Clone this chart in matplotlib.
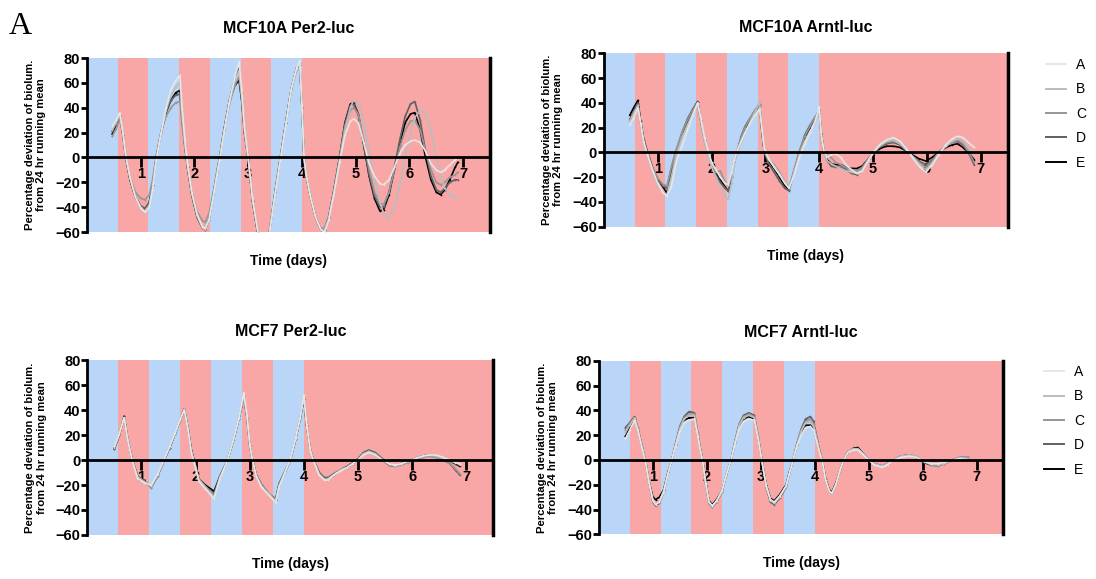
import matplotlib
matplotlib.use('Agg')
import matplotlib.pyplot as plt
from matplotlib.lines import Line2D

plt.rcParams['font.family'] = ['Liberation Sans', 'DejaVu Sans']

# ---- data (days, % deviation) ----
series_names = ['A', 'B', 'C', 'D', 'E']
series_colors = ['#e6e6e6', '#bcbcbc', '#969696', '#606060', '#000000']

# MCF10A Per2-luc
t1 = [0.47, 0.54, 0.61, 0.67, 0.72, 0.80, 0.90, 1.00, 1.08, 1.16, 1.22, 1.29, 1.38, 1.47, 1.56,
      1.65, 1.73, 1.77, 1.82, 1.87, 1.95, 2.05, 2.15, 2.20, 2.27, 2.35, 2.42, 2.47, 2.55, 2.65,
      2.75, 2.83, 2.88, 2.93, 3.00, 3.08, 3.18, 3.28, 3.38, 3.50, 3.60, 3.70, 3.80, 3.90, 3.96,
      4.00, 4.04, 4.08, 4.15, 4.25, 4.35, 4.42, 4.50, 4.60, 4.70, 4.80, 4.90, 4.96, 5.05, 5.15,
      5.25, 5.35, 5.45, 5.52, 5.62, 5.72, 5.82, 5.92, 6.02, 6.10, 6.20, 6.30, 6.40, 6.50, 6.58,
      6.66, 6.75, 6.85, 6.90]
a1 = [25, 30, 36, 20, 2, -16, -32, -41, -44, -40, -26, -2, 20, 40, 54, 62, 66, 40, 15, -5,
      -28, -46, -56, -57, -50, -32, -14, -2, 20, 45, 65, 77, 55, 25, 0, -33, -60, -74, -66, -30,
      -2, 26, 55, 72, 78, 42, 0, -14, -30, -48, -58, -60, -50, -28, -4, 18, 29, 31, 28, 12,
      -5, -15, -21, -22, -18, -8, 3, 10, 13, 14, 12, 5, -5, -10, -12, -10, -6, -2, 0]
b1 = [22, 28, 34, 19, 1, -17, -31, -40, -43, -38, -24, -1, 20, 38, 50, 57, 60, 36, 12, -6,
      -29, -47, -57, -58, -51, -31, -13, -1, 21, 44, 62, 70, 50, 22, -1, -34, -61, -74, -65, -29,
      -1, 27, 54, 71, 77, 41, -1, -14, -29, -47, -58, -59, -50, -28, -4, 22, 40, 46, 44, 28,
      5, -18, -36, -45, -49, -40, -22, 0, 20, 32, 38, 36, 22, 0, -15, -25, -30, -32, -32]
c1 = [17, 23, 31, 17, 0, -16, -28, -33, -34, -30, -18, 2, 20, 33, 40, 44, 45, 26, 8, -8,
      -28, -44, -51, -52, -45, -28, -10, 1, 22, 43, 58, 65, 46, 20, -2, -34, -60, -72, -63, -27,
      1, 28, 54, 70, 74, 40, -1, -15, -30, -47, -57, -57, -47, -25, 0, 25, 38, 40, 35, 14,
      -10, -28, -37, -38, -28, -10, 8, 22, 29, 30, 22, 5, -10, -20, -22, -20, -16, -14, -12]
d1 = [21, 27, 34, 19, 1, -17, -31, -39, -41, -36, -22, 0, 21, 37, 46, 50, 51, 30, 10, -8,
      -30, -48, -57, -58, -50, -30, -12, 0, 23, 46, 64, 72, 52, 22, -1, -35, -62, -75, -65, -28,
      0, 28, 55, 72, 76, 41, -1, -15, -30, -48, -58, -58, -48, -25, 0, 27, 42, 43, 34, 10,
      -14, -31, -40, -40, -28, -8, 14, 33, 43, 45, 30, 5, -15, -26, -28, -25, -20, -18, -18]
e1 = [19, 25, 33, 18, 0, -18, -32, -40, -42, -36, -22, 0, 20, 36, 46, 52, 54, 30, 10, -8,
      -30, -48, -57, -58, -50, -30, -12, 0, 22, 45, 58, 62, 45, 20, -2, -35, -62, -75, -65, -28,
      0, 28, 55, 72, 74, 40, -2, -15, -30, -48, -58, -58, -48, -25, 0, 28, 43, 44, 35, 10,
      -15, -33, -43, -42, -30, -10, 10, 28, 35, 36, 22, 0, -18, -28, -30, -26, -18, -8, -4]

# MCF10A Arntl-luc
t2 = [0.48, 0.55, 0.63, 0.68, 0.74, 0.81, 0.90, 1.00, 1.10, 1.17, 1.25, 1.34, 1.45, 1.55, 1.65,
      1.74, 1.80, 1.87, 1.93, 2.00, 2.08, 2.16, 2.25, 2.31, 2.37, 2.42, 2.47, 2.55, 2.62, 2.72,
      2.82, 2.89, 2.94, 2.98, 3.06, 3.16, 3.26, 3.36, 3.44, 3.52, 3.63, 3.73, 3.83, 3.93, 4.00,
      4.04, 4.09, 4.15, 4.22, 4.30, 4.40, 4.50, 4.60, 4.70, 4.80, 4.92, 5.02, 5.12, 5.25, 5.38,
      5.50, 5.62, 5.73, 5.85, 5.98, 6.10, 6.22, 6.35, 6.47, 6.57, 6.67, 6.77, 6.88]
a2 = [22, 28, 36, 24, 8, -2, -14, -25, -33, -35, -28, -8, 5, 18, 30, 40, 28, 12, 2, -8,
      -14, -20, -25, -26, -16, -6, 1, 9, 16, 24, 31, 35, 18, 3, -5, -12, -18, -25, -29, -20,
      -4, 7, 16, 26, 37, 14, 1, -4, -2, -1, -4, -10, -14, -17, -15, -6, 1, 6, 10, 12,
      9, 3, -4, -11, -16, -10, -2, 6, 11, 13, 12, 8, 4]
b2 = [25, 31, 38, 23, 6, -3, -15, -27, -33, -34, -20, -2, 12, 22, 31, 39, 25, 8, -2, -12,
      -20, -28, -35, -38, -25, -10, -1, 8, 16, 25, 34, 41, 20, 2, -6, -11, -17, -24, -29, -18,
      -2, 9, 17, 25, 33, 12, -1, -7, -9, -11, -13, -15, -16, -17, -14, -6, 0, 5, 9, 10,
      7, 2, -3, -9, -14, -9, -1, 5, 9, 11, 10, 4, -2]
c2 = [26, 32, 38, 24, 9, -1, -12, -21, -26, -27, -12, 2, 16, 26, 34, 40, 24, 9, -1, -9,
      -16, -15, -24, -27, -18, -6, 1, 12, 20, 28, 35, 37, 14, 0, -6, -10, -16, -24, -28, -16,
      1, 13, 21, 29, 33, 14, 0, -3, -4, -8, -10, -12, -14, -15, -12, -5, 1, 5, 8, 9,
      7, 2, -3, -8, -12, -7, 0, 5, 8, 10, 7, 1, -8]
d2 = [27, 33, 40, 24, 9, 0, -13, -23, -27, -29, -13, 1, 16, 27, 35, 41, 25, 9, 0, -11,
      -18, -24, -29, -31, -19, -7, 0, 13, 21, 28, 35, 39, 16, 0, -9, -16, -23, -29, -31, -18,
      0, 14, 22, 29, 32, 13, 0, -7, -11, -12, -12, -14, -17, -18, -13, -5, 0, 4, 7, 8,
      6, 1, -3, -7, -10, -6, 0, 5, 8, 9, 6, 0, -10]
e2 = [30, 36, 42, 25, 10, 0, -12, -22, -28, -33, -15, 0, 15, 25, 34, 41, 26, 10, 0, -10,
      -16, -22, -28, -31, -20, -8, 0, 10, 18, 26, 34, 38, 15, 0, -8, -13, -20, -27, -30, -17,
      0, 12, 20, 28, 35, 15, 0, -6, -9, -10, -10, -12, -13, -13, -11, -5, 0, 3, 5, 5,
      4, 1, -2, -5, -7, -4, 0, 4, 6, 7, 4, 0, -6]

# MCF7 Per2-luc
t3 = [0.50, 0.59, 0.68, 0.74, 0.83, 0.93, 1.05, 1.18, 1.30, 1.42, 1.52, 1.62, 1.72, 1.79, 1.86,
      1.92, 1.97, 2.06, 2.18, 2.34, 2.45, 2.59, 2.70, 2.80, 2.89, 2.95, 3.00, 3.05, 3.12, 3.22,
      3.35, 3.48, 3.54, 3.65, 3.75, 3.85, 3.93, 4.00, 4.05, 4.12, 4.18, 4.28, 4.38, 4.45, 4.55,
      4.67, 4.80, 4.90, 5.00, 5.10, 5.20, 5.32, 5.45, 5.58, 5.68, 5.80, 5.92, 6.05, 6.18, 6.30,
      6.45, 6.58, 6.70, 6.80, 6.88]
a3 = [11, 21, 34, 17, -1, -15, -18, -20, -11, 1, 11, 22, 33, 40, 24, 6, -2, -17, -23, -31,
      -15, 0, 17, 34, 54, 36, 13, 0, -13, -22, -28, -34, -22, -10, 1, 18, 34, 52, 29, 7,
      -1, -12, -16, -16, -12, -9, -6, -3, 0, 4, 6, 4, 0, -3, -4, -3, -1, 1, 3, 4,
      4, 2, 0, -2, -3]
b3 = [10, 21, 34, 18, 0, -14, -18, -21, -12, 0, 11, 21, 32, 41, 25, 7, -1, -16, -22, -30,
      -14, 0, 16, 33, 52, 35, 12, 0, -13, -21, -27, -33, -21, -10, 0, 17, 33, 51, 29, 8,
      0, -11, -16, -15, -12, -8, -6, -3, 0, 5, 7, 5, 0, -3, -5, -3, -1, 1, 3, 4,
      3, 1, -1, -2, -4]
c3 = [10, 20, 34, 18, 0, -13, -17, -22, -12, 0, 10, 21, 32, 40, 24, 7, 0, -15, -21, -28,
      -14, 0, 16, 33, 50, 34, 12, 0, -12, -20, -27, -32, -20, -10, 0, 17, 33, 50, 28, 8,
      0, -11, -15, -15, -12, -8, -6, -3, 0, 5, 6, 4, 0, -4, -5, -4, -2, 0, 2, 3,
      2, 0, -3, -7, -11]
d3 = [9, 20, 34, 18, 0, -13, -17, -22, -13, 0, 10, 21, 32, 40, 25, 8, 0, -15, -21, -27,
      -13, 0, 16, 33, 50, 34, 12, 0, -12, -20, -27, -31, -19, -9, 0, 17, 33, 49, 28, 8,
      0, -10, -14, -14, -11, -8, -5, -2, 1, 6, 8, 6, 1, -3, -5, -3, -1, 1, 3, 4,
      3, 0, -3, -8, -12]
e3 = [9, 20, 35, 18, 0, -13, -17, -21, -12, 0, 10, 21, 32, 41, 25, 8, 0, -15, -20, -25,
      -13, 0, 16, 33, 51, 34, 12, 0, -12, -20, -27, -32, -20, -10, 0, 17, 33, 49, 28, 8,
      0, -10, -15, -15, -12, -8, -6, -3, 0, 5, 7, 5, 0, -4, -5, -3, -1, 1, 3, 4,
      3, 1, -1, -3, -5]

# MCF7 Arntl-luc
t4 = [0.49, 0.57, 0.66, 0.72, 0.80, 0.86, 0.93, 1.00, 1.05, 1.12, 1.20, 1.28, 1.35, 1.42, 1.50,
      1.58, 1.67, 1.77, 1.83, 1.88, 1.92, 1.98, 2.04, 2.10, 2.18, 2.28, 2.36, 2.45, 2.52, 2.60,
      2.68, 2.78, 2.88, 2.95, 3.02, 3.10, 3.18, 3.25, 3.35, 3.47, 3.53, 3.60, 3.67, 3.75, 3.83,
      3.92, 3.98, 4.04, 4.10, 4.14, 4.20, 4.27, 4.32, 4.40, 4.47, 4.54, 4.62, 4.72, 4.80, 4.90,
      5.00, 5.10, 5.25, 5.35, 5.46, 5.60, 5.75, 5.88, 6.02, 6.15, 6.28, 6.40, 6.55, 6.70, 6.84]
a4 = [17, 24, 32, 24, 9, -1, -19, -33, -36, -34, -26, -11, 0, 11, 23, 30, 32, 33, 19, 7,
      -1, -19, -34, -37, -33, -25, -12, 0, 13, 25, 31, 33, 32, 17, -1, -21, -32, -34, -29, -21,
      -11, 0, 11, 20, 26, 27, 24, 14, 4, -1, -16, -25, -27, -19, -8, 0, 6, 8, 8, 4,
      0, -4, -6, -4, 0, 2, 3, 2, -1, -3, -3, -2, 0, 1, 0]
b4 = [22, 28, 34, 25, 10, 0, -18, -32, -35, -33, -25, -11, 0, 12, 25, 33, 36, 36, 21, 8,
      0, -19, -34, -37, -33, -25, -12, 0, 14, 28, 34, 36, 34, 18, 0, -21, -32, -35, -30, -21,
      -11, 0, 12, 23, 30, 31, 27, 16, 5, 0, -16, -25, -27, -19, -8, 0, 7, 9, 9, 5,
      0, -3, -5, -3, 0, 3, 4, 3, -1, -3, -4, -3, 0, 2, 1]
c4 = [24, 29, 34, 25, 10, 0, -19, -33, -36, -34, -25, -11, 0, 13, 26, 34, 37, 37, 21, 8,
      0, -19, -35, -38, -34, -26, -12, 0, 14, 28, 35, 37, 35, 19, 0, -21, -33, -35, -30, -21,
      -11, 0, 13, 24, 31, 33, 29, 17, 5, 0, -16, -25, -27, -19, -8, 0, 7, 9, 9, 5,
      0, -3, -5, -3, 0, 3, 4, 3, -1, -4, -5, -3, 0, 2, 2]
d4 = [26, 30, 35, 26, 11, 0, -19, -34, -37, -35, -26, -11, 0, 13, 27, 35, 39, 38, 22, 9,
      0, -20, -35, -38, -34, -26, -12, 0, 15, 29, 36, 38, 36, 19, 0, -22, -34, -36, -31, -22,
      -11, 0, 13, 25, 33, 35, 31, 18, 6, 0, -16, -25, -27, -19, -8, 0, 7, 9, 9, 5,
      0, -3, -5, -3, 0, 3, 4, 3, -2, -4, -5, -3, 0, 2, 2]
e4 = [19, 26, 33, 25, 10, 0, -18, -30, -32, -30, -24, -10, 0, 12, 25, 32, 34, 34, 20, 8,
      0, -18, -33, -36, -32, -25, -12, 0, 14, 27, 33, 35, 33, 18, 0, -20, -31, -33, -28, -20,
      -10, 0, 12, 22, 28, 28, 25, 15, 5, 0, -15, -24, -26, -18, -8, 0, 6, 9.5, 10, 5,
      0, -3, -5, -3, 0, 3, 4, 2, -2, -4, -4.5, -3, 0, 2, 1]

x_ticks = [1, 2, 3, 4, 5, 6, 7]
y_ticks = [-60, -40, -20, 0, 20, 40, 60, 80]

BLUE = '#b9d5f8'
RED = '#f9a6a6'


def draw_panel(ax, title, t, series, title_pad):
    ax.set_xlim(0, 7.5)
    ax.set_ylim(-60, 80)
    # light schedule: 4 days of alternating blocks, then constant
    block = 4 / 7
    for i in range(7):
        ax.axvspan(i * block, (i + 1) * block, color=BLUE if i % 2 == 0 else RED, lw=0, zorder=0)
    ax.axvspan(4, 7.5, color=RED, lw=0, zorder=0)

    # draw darkest first so the light traces stay visible on top
    for name, color, vals in reversed(list(zip(series_names, series_colors, series))):
        ax.plot(t, vals, color=color, lw=1.2, marker='o', ms=1.2, mew=0, zorder=2)

    ax.spines['top'].set_visible(False)
    ax.spines['bottom'].set_position(('data', 0))
    ax.spines['bottom'].set_linewidth(2)
    ax.spines['bottom'].set_zorder(3)
    ax.spines['left'].set_linewidth(2)
    ax.spines['right'].set_linewidth(2.5)
    ax.set_xticks(x_ticks)
    ax.set_yticks(y_ticks)
    ax.tick_params(axis='x', direction='out', length=7, width=2, pad=0, labelsize=10.5)
    ax.tick_params(axis='y', direction='out', length=4, width=2, pad=1, labelsize=10.5)
    for lab in ax.get_xticklabels() + ax.get_yticklabels():
        lab.set_fontweight('bold')

    ax.set_title(title, fontsize=11.5, fontweight='bold', pad=title_pad)
    ax.annotate('Percentage deviation of biolum.\nfrom 24 hr running mean',
                xy=(0, 0.5), xycoords='axes fraction', xytext=(-37, 0),
                textcoords='offset points', rotation=90, ha='center', va='center',
                fontsize=8.1, fontweight='bold', linespacing=1.15)
    ax.annotate('Time (days)', xy=(0.5, 0), xycoords='axes fraction', xytext=(0, -21),
                textcoords='offset points', ha='center', va='center',
                fontsize=10, fontweight='bold')


def add_legend(fig, x, y):
    handles = [Line2D([], [], color=c, lw=1.4) for c in series_colors]
    fig.legend(handles, series_names, loc='upper left', bbox_to_anchor=(x, y),
               bbox_transform=fig.transFigure, frameon=False, fontsize=10,
               handlelength=1.45, handletextpad=0.7, labelspacing=0.75,
               borderaxespad=0, borderpad=0)


fig = plt.figure(figsize=(10.96, 5.79), dpi=100)

ax1 = fig.add_axes([0.0794, 0.5993, 0.3677, 0.3005])
ax2 = fig.add_axes([0.5511, 0.6085, 0.3682, 0.2994])
ax3 = fig.add_axes([0.0797, 0.0760, 0.3704, 0.3022])
ax4 = fig.add_axes([0.5465, 0.0772, 0.3691, 0.2998])

draw_panel(ax1, 'MCF10A Per2-luc', t1, [a1, b1, c1, d1, e1], 18)
draw_panel(ax2, 'MCF10A Arntl-luc', t2, [a2, b2, c2, d2, e2], 15)
draw_panel(ax3, 'MCF7 Per2-luc', t3, [a3, b3, c3, d3, e3], 17)
draw_panel(ax4, 'MCF7 Arntl-luc', t4, [a4, b4, c4, d4, e4], 17)

add_legend(fig, 1046 / 1096, 1 - 58 / 579)
add_legend(fig, 1044 / 1096, 1 - 365 / 579)

fig.text(0.008, 0.955, 'A', fontsize=23, family=['Liberation Serif', 'DejaVu Serif'],
         ha='left', va='center')

fig.savefig('out.png', dpi=100)
